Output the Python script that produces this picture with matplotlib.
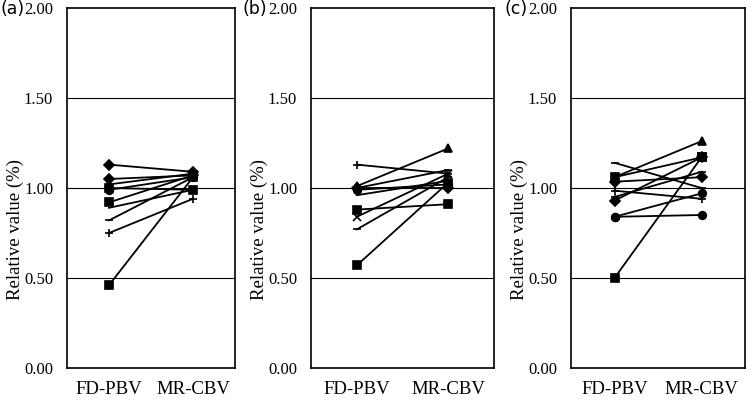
import matplotlib.pyplot as plt

categories = ["FD-PBV", "MR-CBV"]
panel_names = ["(a)", "(b)", "(c)"]

# each row: FD-PBV value, MR-CBV value
a_values = [[1.13, 1.09], [1.05, 1.07], [1.02, 1.08], [1.00, 0.99], [0.99, 1.06],
            [0.92, 1.07], [0.89, 0.99], [0.82, 1.06], [0.75, 0.94], [0.46, 1.06]]
a_markers = ["D", "D", "^", "s", "o", "s", "", "_", "+", "s"]

b_values = [[1.13, 1.08], [1.01, 1.22], [1.00, 1.10], [1.00, 1.00], [0.99, 1.02],
            [0.96, 1.04], [0.88, 0.91], [0.84, 1.08], [0.77, 1.06], [0.57, 1.03]]
b_markers = ["+", "^", "_", "D", "o", "", "s", "x", "_", "s"]

c_values = [[1.14, 1.00], [1.06, 1.26], [1.06, 1.17], [1.035, 1.06], [0.985, 0.94],
            [0.95, 1.09], [0.93, 1.17], [0.84, 0.97], [0.84, 0.85], [0.50, 1.17]]
c_markers = ["_", "^", "s", "D", "+", "_", "D", "o", "o", "s"]

yticks = [0.0, 0.5, 1.0, 1.5, 2.0]

W, H = 750, 403
fig = plt.figure(figsize=(7.5, 4.03), dpi=100)

# pixel boxes (left, right) of each panel, top y=8, bottom y=368
boxes = [(67, 235), (311, 494), (571, 745)]
label_x = [1, 242, 505]
top, bottom = 8, 368

panels = [(a_values, a_markers), (b_values, b_markers), (c_values, c_markers)]

for i, ((vals, marks), (l, r)) in enumerate(zip(panels, boxes)):
    ax = fig.add_axes([l / W, (H - bottom) / H, (r - l) / W, (bottom - top) / H])
    for (v0, v1), m in zip(vals, marks):
        ax.plot([0, 1], [v0, v1], color="black", lw=1.3, marker=m if m else None,
                markersize=5.5, markeredgewidth=1.2, mfc="black", mec="black")
    ax.set_xlim(-0.5, 1.5)
    ax.set_ylim(0, 2.0)
    ax.set_yticks(yticks)
    ax.set_yticklabels([f"{t:.2f}" for t in yticks], family="Liberation Serif", fontsize=12)
    ax.set_xticks([0, 1])
    ax.set_xticklabels(categories, family="Liberation Serif", fontsize=13.5)
    ax.tick_params(axis="y", length=0, pad=10)
    ax.tick_params(axis="x", length=0, pad=9)
    for t in [0.5, 1.0, 1.5]:
        ax.axhline(t, color="black", lw=0.8, zorder=0)
    for s in ax.spines.values():
        s.set_linewidth(1.2)
    ax.set_ylabel("Relative value (%)", family="Liberation Serif", fontsize=13.5)
    ax.yaxis.set_label_coords(-43 / (r - l), 0.386)
    fig.text(label_x[i] / W, (H - 9) / H, panel_names[i], fontsize=12.5, va="center", ha="left")

fig.savefig("out.png", dpi=100)
